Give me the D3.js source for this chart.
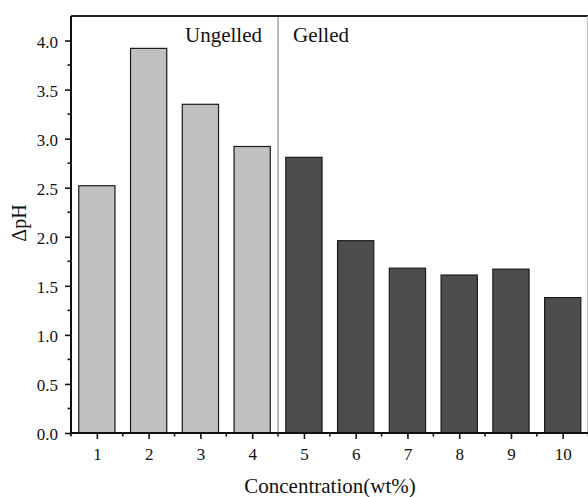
<!DOCTYPE html>
<html><head><meta charset="utf-8">
<script src="https://cdn.jsdelivr.net/npm/d3@7"></script>
<style>body{margin:0;background:#fff}svg{display:block}</style>
</head><body>
<script>
const categories = [1,2,3,4,5,6,7,8,9,10];
const deltaPH = [2.52,3.92,3.35,2.92,2.81,1.96,1.68,1.61,1.67,1.38];
const groups = ["Ungelled","Ungelled","Ungelled","Ungelled","Gelled","Gelled","Gelled","Gelled","Gelled","Gelled"];
const yTicks = [0,0.5,1,1.5,2,2.5,3,3.5,4];
const yTickLabels = ["0.0","0.5","1.0","1.5","2.0","2.5","3.0","3.5","4.0"];
const xLabel = "Concentration(wt%)";
const yLabel = "ΔpH";

const FONT="Liberation Serif";
const W=588,H=497;
const L=71,R=588,T=16,B=433;
const svg=d3.select("body").append("svg").attr("width",W).attr("height",H).attr("font-family",FONT);
const x=d3.scaleLinear().domain([0.5,10.5]).range([L,R+0.6]);
const y=d3.scaleLinear().domain([0,4.25]).range([B,T]);
const bw=x(1.35)-x(1);

// separator
svg.append("line").attr("x1",x(4.5)).attr("x2",x(4.5)).attr("y1",T).attr("y2",B)
  .attr("stroke","#777").attr("stroke-width",1);

// bars
svg.selectAll("rect.bar").data(categories).join("rect").attr("class","bar")
  .attr("x",(d)=>x(d)-bw).attr("width",2*bw)
  .attr("y",(d,i)=>y(deltaPH[i])).attr("height",(d,i)=>B-y(deltaPH[i]))
  .attr("fill",(d,i)=>groups[i]==="Ungelled"?"#c0c0c0":"#4d4d4d")
  .attr("stroke","#1a1a1a").attr("stroke-width",1.2);

// frame
svg.append("line").attr("x1",L).attr("x2",R).attr("y1",T).attr("y2",T).attr("stroke","#222").attr("stroke-width",2);
svg.append("line").attr("x1",R-0.5).attr("x2",R-0.5).attr("y1",T).attr("y2",B).attr("stroke","#bbb").attr("stroke-width",1);

// y axis
const yAx=d3.axisLeft(y).tickValues(yTicks).tickFormat((d,i)=>yTickLabels[i]).tickSize(6).tickPadding(7);
const gy=svg.append("g").attr("transform",`translate(${L},0)`).call(yAx).attr("font-family",FONT).attr("font-size",17);
gy.select(".domain").attr("stroke","#111").attr("stroke-width",2).attr("d",`M0,${B}V${T}`);
gy.selectAll(".tick line").attr("stroke","#111").attr("stroke-width",1.6);
gy.selectAll(".tick text").attr("fill","#111").attr("dy","0.4em");
const yMinor=d3.range(0.25,4.25,0.5);
svg.append("g").selectAll("line").data(yMinor).join("line")
  .attr("x1",L-3.5).attr("x2",L).attr("y1",d=>y(d)).attr("y2",d=>y(d)).attr("stroke","#111").attr("stroke-width",1.6);

// x axis
const xAx=d3.axisBottom(x).tickValues(categories).tickFormat(d=>String(d)).tickSize(6).tickPadding(9);
const gx=svg.append("g").attr("transform",`translate(0,${B})`).call(xAx).attr("font-family",FONT).attr("font-size",17);
gx.select(".domain").attr("stroke","#111").attr("stroke-width",2).attr("d",`M${L},0H${R}`);
gx.selectAll(".tick line").attr("stroke","#111").attr("stroke-width",1.6);
gx.selectAll(".tick text").attr("fill","#111");
const xMinor=d3.range(0.5,10.6,1);
svg.append("g").selectAll("line").data(xMinor).join("line")
  .attr("y1",B).attr("y2",B+3.5).attr("x1",d=>x(d)).attr("x2",d=>x(d)).attr("stroke","#111").attr("stroke-width",1.6);

// group labels
svg.append("text").attr("x",x(4.5)-16).attr("y",42).attr("text-anchor","end").attr("font-size",21).attr("fill","#111").text("Ungelled");
svg.append("text").attr("x",x(4.5)+15).attr("y",42).attr("text-anchor","start").attr("font-size",21).attr("fill","#111").text("Gelled");

// axis titles
svg.append("text").attr("x",330).attr("y",493).attr("text-anchor","middle").attr("font-size",21).attr("fill","#111").text(xLabel);
svg.append("text").attr("transform","translate(26,223) rotate(-90)").attr("text-anchor","middle").attr("font-size",20).attr("fill","#111").text(yLabel);
</script>
</body></html>
